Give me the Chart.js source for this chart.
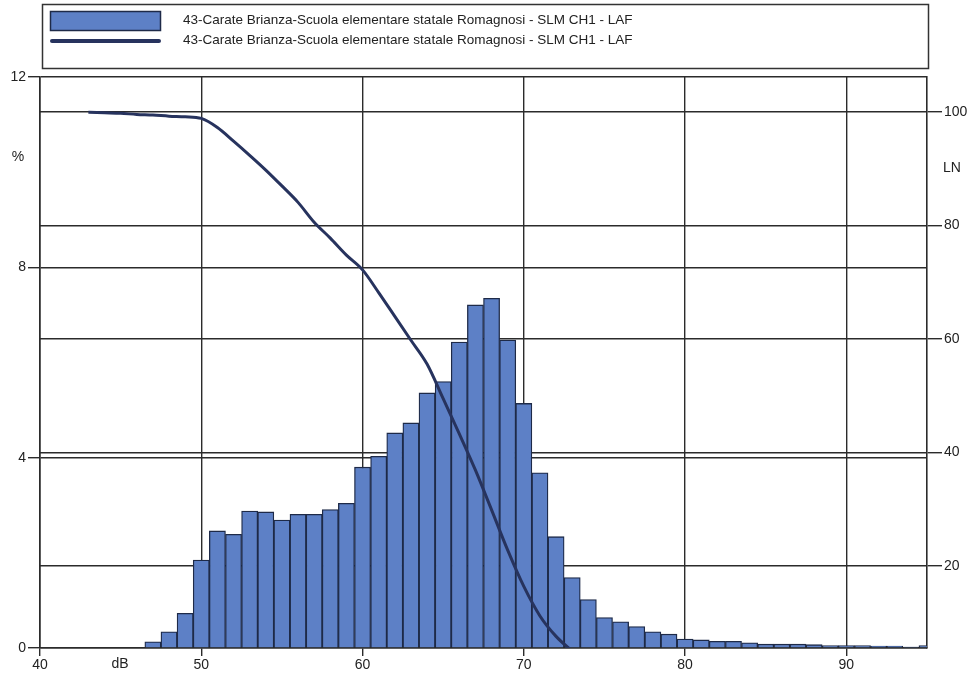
<!DOCTYPE html>
<html>
<head>
<meta charset="utf-8">
<script src="https://cdn.jsdelivr.net/npm/chart.js@4.4.1/dist/chart.umd.min.js"></script>
<style>
  html, body { margin: 0; padding: 0; background: #ffffff; }
  canvas { display: block; }
</style>
</head>
<body>
<canvas id="myChart" width="979" height="680"></canvas>
<script>
// Histogram: % of time per 1 dB class (class centre in dB)
var dbLevels = [47, 48, 49, 50, 51, 52, 53, 54, 55, 56, 57, 58, 59, 60, 61, 62, 63, 64, 65,
                66, 67, 68, 69, 70, 71, 72, 73, 74, 75, 76, 77, 78, 79, 80, 81, 82, 83, 84,
                85, 86, 87, 88, 89, 90, 91, 92, 93, 94, 95];
var percentValues = [0.13, 0.34, 0.73, 1.85, 2.46, 2.39, 2.88, 2.86, 2.69, 2.81, 2.81, 2.91, 3.04,
                     3.80, 4.03, 4.52, 4.73, 5.36, 5.60, 6.43, 7.21, 7.35, 6.47, 5.14, 3.68, 2.34,
                     1.48, 1.02, 0.64, 0.55, 0.45, 0.34, 0.29, 0.19, 0.17, 0.14, 0.14, 0.11, 0.08,
                     0.08, 0.08, 0.07, 0.05, 0.05, 0.05, 0.04, 0.04, 0.02, 0.05];

// Cumulative curve LN (right axis)
var lnLevels = [43, 44, 45, 46, 47, 48, 49, 50, 51, 52, 53, 54, 55, 56, 57, 58, 59, 60,
                61, 62, 63, 64, 65, 66, 67, 68, 69, 70, 71, 72, 73];
var lnValues = [100.0, 99.9, 99.8, 99.6, 99.5, 99.3, 99.2, 98.9, 97.3, 94.9, 92.4, 89.8, 87.0,
                84.1, 80.6, 77.8, 74.8, 72.2, 68.2, 64.0, 59.8, 55.6, 49.5, 43.3, 36.9, 29.9,
                22.8, 16.4, 11.2, 7.6, 5.0];

var seriesLabel = '43-Carate Brianza-Scuola elementare statale Romagnosi - SLM CH1 - LAF';
var leftTicks = [0, 4, 8, 12];
var rightTicks = [20, 40, 60, 80, 100];

var barColor = '#5d80c6';
var barEdge = '#1e2a48';
var lineColor = '#27335e';
var gridColor = '#2b2b2b';
var textColor = '#222222';
var fontFamily = '"Liberation Sans", Arial, sans-serif';

// legend box + axis unit labels drawn on the canvas
var decorations = {
    id: 'decorations',
    afterDraw: function (chart) {
        var ctx = chart.ctx;
        var area = chart.chartArea;
        ctx.save();

        // legend frame
        ctx.strokeStyle = '#333333';
        ctx.lineWidth = 1.5;
        ctx.strokeRect(42.5, 4.5, 886, 64);

        // bar swatch
        ctx.fillStyle = barColor;
        ctx.fillRect(50, 11, 110, 19);
        ctx.strokeStyle = barEdge;
        ctx.lineWidth = 1.5;
        ctx.strokeRect(50.5, 11.5, 110, 19);

        // line swatch
        ctx.strokeStyle = lineColor;
        ctx.lineWidth = 4;
        ctx.lineCap = 'round';
        ctx.beginPath();
        ctx.moveTo(52, 41);
        ctx.lineTo(159, 41);
        ctx.stroke();

        ctx.fillStyle = textColor;
        ctx.font = '13.5px ' + fontFamily;
        ctx.textBaseline = 'middle';
        ctx.textAlign = 'left';
        ctx.fillText(chart.data.datasets[1].label, 183, 20);
        ctx.fillText(chart.data.datasets[0].label, 183, 40);

        // unit labels
        ctx.font = '14px ' + fontFamily;
        ctx.textAlign = 'center';
        ctx.fillText('%', 18, 157);
        ctx.fillText('LN', area.right + 25, 168);
        ctx.fillText('dB', 120, area.bottom + 16);
        ctx.restore();
    }
};

var ctx = document.getElementById('myChart').getContext('2d');

var myChart = new Chart(ctx, {
    type: 'bar',
    data: {
        datasets: [
            {
                type: 'line',
                label: seriesLabel,
                data: lnLevels.map((v, i) => ({ x: v, y: lnValues[i] })),
                yAxisID: 'y2',
                borderColor: lineColor,
                borderWidth: 3,
                pointRadius: 0,
                cubicInterpolationMode: 'monotone',
                order: 0
            },
            {
                type: 'bar',
                label: seriesLabel,
                data: dbLevels.map((v, i) => ({ x: v, y: percentValues[i] })),
                yAxisID: 'y',
                backgroundColor: barColor,
                borderColor: barEdge,
                borderWidth: 1.3,
                barPercentage: 1,
                categoryPercentage: 1,
                order: 1
            }
        ]
    },
    options: {
        responsive: false,
        animation: false,
        layout: { padding: { top: 77, left: 0, right: 0, bottom: 0 } },
        plugins: {
            legend: { display: false },
            tooltip: { enabled: false }
        },
        scales: {
            x: {
                type: 'linear',
                min: 40,
                max: 95,
                offset: false,
                ticks: {
                    stepSize: 10,
                    includeBounds: false,
                    padding: 1,
                    color: textColor,
                    font: { family: fontFamily, size: 14 },
                    maxRotation: 0
                },
                grid: { offset: false, color: gridColor, lineWidth: 1.4, tickLength: 8 },
                border: { color: gridColor, width: 1.6 },
                afterFit: function (s) { s.height = 32; }
            },
            y: {
                position: 'left',
                min: 0,
                max: 12,
                afterBuildTicks: function (s) { s.ticks = leftTicks.map(v => ({ value: v })); },
                ticks: {
                    padding: 2,
                    color: textColor,
                    font: { family: fontFamily, size: 14 }
                },
                grid: { color: gridColor, lineWidth: 1.4, tickLength: 12 },
                border: { color: gridColor, width: 1.6 },
                afterFit: function (s) { s.width = 40; }
            },
            y2: {
                position: 'right',
                min: 5.55,
                max: 106.2,
                afterBuildTicks: function (s) { s.ticks = rightTicks.map(v => ({ value: v })); },
                ticks: {
                    padding: 2,
                    color: textColor,
                    font: { family: fontFamily, size: 14 }
                },
                grid: { color: gridColor, lineWidth: 1.4, tickLength: 15 },
                border: { color: gridColor, width: 1.6 },
                afterFit: function (s) { s.width = 52; }
            }
        }
    },
    plugins: [decorations]
});
</script>
</body>
</html>
